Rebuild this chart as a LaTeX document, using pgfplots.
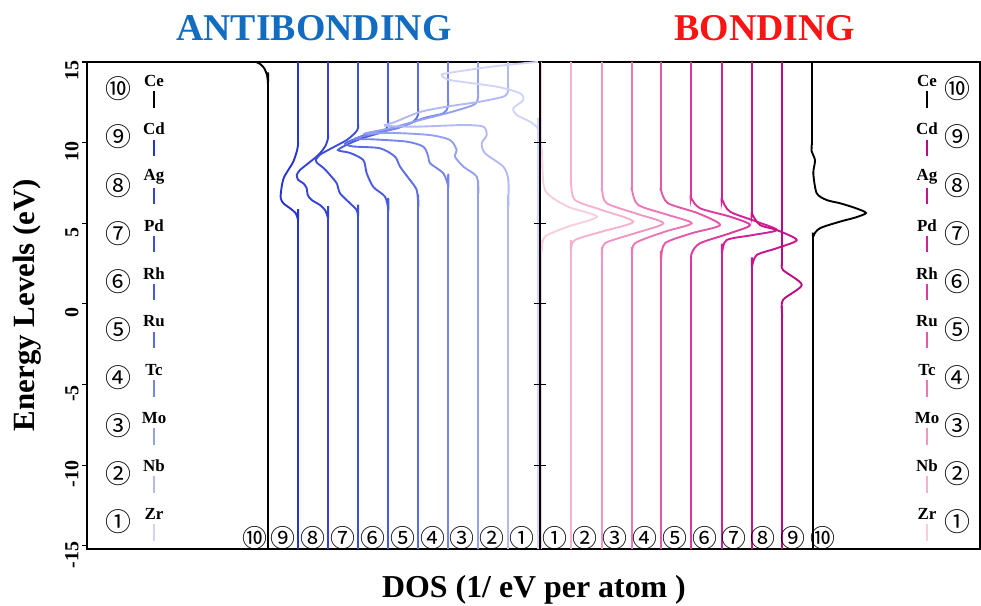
\documentclass[border=0pt]{standalone}
\usepackage{pgfplots}
\pgfplotsset{compat=1.18}
\usepackage{fontspec}
\setmainfont{Liberation Serif}
\newfontfamily\cjk{Noto Sans CJK SC}
\definecolor{b9}{RGB}{40,52,205}
\definecolor{b8}{RGB}{52,66,215}
\definecolor{b7}{RGB}{62,78,220}
\definecolor{b6}{RGB}{72,90,225}
\definecolor{b5}{RGB}{92,108,230}
\definecolor{b4}{RGB}{118,132,236}
\definecolor{b3}{RGB}{148,160,240}
\definecolor{b2}{RGB}{178,186,245}
\definecolor{b1}{RGB}{208,212,248}
\definecolor{p1}{RGB}{248,205,222}
\definecolor{p2}{RGB}{245,178,208}
\definecolor{p3}{RGB}{240,150,196}
\definecolor{p4}{RGB}{235,120,182}
\definecolor{p5}{RGB}{228,88,170}
\definecolor{p6}{RGB}{220,58,160}
\definecolor{p7}{RGB}{210,32,150}
\definecolor{p8}{RGB}{200,20,140}
\definecolor{p9}{RGB}{188,10,130}
\definecolor{titleblue}{RGB}{18,108,192}
\definecolor{titlered}{RGB}{250,20,20}
\begin{document}
\begin{tikzpicture}[x=1bp,y=1bp]
\useasboundingbox (0,0) rectangle (981,606);
\begin{axis}[at={(87bp,57bp)}, anchor=south west, scale only axis,
  width=893bp, height=487bp, xmin=87, xmax=980, ymin=-15.2, ymax=15,
  xtick=\empty, ytick={-15,-10,...,15}, ytick pos=left,
  tick align=outside, major tick length=5bp,
  every tick/.style={black, line width=1.2pt},
  axis line style={line width=1.5pt},
  /pgf/number format/assume math mode=true,
  yticklabel style={rotate=90, anchor=south, font=\fontsize{20}{20}\selectfont\bfseries, xshift=-9bp},
  every axis plot/.append style={line width=1.9pt, smooth, tension=0.45, no marks},
  clip=true]
% ---- left panel (antibonding) ----
\addplot[black] coordinates {(268,-15.2)(268,12.5)(268,13.57)(267,14.19)(264,14.63)(260,14.88)(256,15)};
\addplot[b9] coordinates {(298,-15.2)(298,4.6)(298,5.20)(295.7,5.62)(290,5.93)(283.3,6.24)(280.7,6.55)(281,6.96)(282.3,7.48)(284.3,7.89)(288.3,8.30)(293.3,8.82)(296.7,9.44)(298,9.85)(298,10.4)(298,15)};
\addplot[b8] coordinates {(328,-15.2)(328,4.8)(328,5.31)(325,5.82)(320,6.13)(311.7,6.44)(307.7,6.75)(306.7,7.17)(303.3,7.48)(298.3,7.68)(296.7,7.99)(300,8.30)(308.3,8.72)(318.3,9.23)(325,9.75)(328,10.27)(328,10.8)(328,15)};
\addplot[b7] coordinates {(358,-15.2)(358,4.9)(358,5.4)(356.7,5.82)(350,6.24)(340,6.86)(336.7,7.48)(330,7.99)(324,8.4)(317,8.75)(316,8.95)(320,9.25)(330,9.6)(346.7,10.16)(355,10.6)(358,10.89)(358,11.4)(358,15)};
\addplot[b6] coordinates {(388,-15.2)(388,5.3)(388.3,5.82)(385,6.65)(373.3,7.25)(366.7,8.10)(363.3,8.92)(350,9.36)(338,9.54)(350,9.96)(363,10.29)(383,10.68)(388,11.09)(388,11.6)(388,15)};
\addplot[b5] coordinates {(418,-15.2)(418,5.5)(418.3,6.03)(416.7,7.06)(410,7.68)(400,8.51)(395,9.13)(380,9.65)(353.3,9.76)(345,9.92)(350,10.10)(370,10.58)(396.7,10.89)(413.3,11.30)(418,11.71)(418,12.3)(418,15)};
\addplot[b4] coordinates {(448,-15.2)(448,6.7)(448.3,7.27)(443.3,8.10)(430,8.72)(428.3,9.13)(423.3,9.75)(406.7,10.06)(373.3,10.20)(355,10.22)(363.3,10.40)(396.7,10.89)(423.3,11.51)(443.3,11.82)(448,12.23)(448,12.8)(448,15)};
\addplot[b3] coordinates {(478,-15.2)(478,6.3)(478.3,6.86)(476.7,7.89)(463.3,8.51)(455,9.13)(456.7,9.54)(450,10.16)(430,10.47)(393.3,10.60)(365,10.56)(390,10.89)(420,11.40)(446.7,11.82)(473.3,12.33)(478,12.75)(478,13.3)(478,15)};
\addplot[b2] coordinates {(508,-15.2)(508,5.5)(508.3,6.03)(508.3,7.68)(503.3,8.51)(485,9.34)(481.7,9.96)(486.7,10.47)(483.3,10.99)(463.3,11.09)(416.7,10.99)(385,11.05)(395,11.28)(420,11.90)(446.7,12.23)(480,12.54)(503.3,12.85)(508,13.16)(508,13.7)(508,15)};
\addplot[b1] coordinates {(538,-15.2)(538,9.9)(538.3,10.68)(536.7,10.97)(530,11.30)(516.7,11.71)(513.3,12.13)(523.3,12.64)(520,13.06)(496.7,13.47)(450,13.88)(441.7,14.19)(446.7,14.30)(490,14.7)(530,14.96)(538,15)};
% ---- right panel (bonding) ----
\addplot[p1] coordinates {(541,-15.2)(541,2.8)(541.7,3.34)(545,4.17)(568,4.79)(597,5.41)(568,6.03)(545,7.06)(542,9.5)(541,9.8)(541,15)};
\addplot[p2] coordinates {(571,-15.2)(571,2.8)(571,3.34)(575,3.96)(601.7,4.48)(633.3,5.10)(601.7,5.82)(575,6.44)(571,7.48)(571,8.0)(571,15)};
\addplot[p3] coordinates {(602,-15.2)(602,2.4)(602,2.93)(605,3.76)(635,4.38)(663.3,5.0)(635,5.62)(606.7,6.24)(602,7.06)(602,7.6)(602,15)};
\addplot[p4] coordinates {(632,-15.2)(632,2.4)(632,2.93)(635,3.76)(665,4.48)(691.7,5.0)(668.3,5.51)(638.3,6.13)(632,7.06)(632,7.6)(632,15)};
\addplot[p5] coordinates {(661,-15.2)(661,2.2)(661,2.72)(665,3.76)(691.7,4.38)(720,4.89)(698,5.62)(668,6.24)(661,7.06)(661,7.6)(661,15)};
\addplot[p6] coordinates {(691,-15.2)(691,1.9)(691,2.4)(691.7,3.14)(700,3.76)(730,4.38)(750,4.89)(730,5.41)(700,5.93)(691,6.6)(691,7.2)(691,15)};
\addplot[p7] coordinates {(722,-15.2)(722,2.6)(722,3.14)(726.7,3.96)(753,4.27)(776.7,4.58)(756.7,5.10)(730,5.72)(722,6.5)(722,7.0)(722,15)};
\addplot[p8] coordinates {(752,-15.2)(752,1.8)(752,2.31)(756.7,3.03)(776.7,3.45)(796.7,3.96)(776.7,4.58)(760,4.89)(752,5.6)(752,6.1)(752,15)};
\addplot[p9] coordinates {(782,-15.2)(782,-1.1)(782,-0.58)(783,0.25)(801.7,1.18)(783,2.1)(782,2.6)(782,3.2)(782,15)};
\addplot[black] coordinates {(813,-15.2)(813,3.0)(813.3,4.17)(820,4.69)(840,5.1)(855,5.35)(866,5.64)(855,5.95)(840,6.24)(826.7,6.44)(816.7,6.86)(813.3,8.1)(815,8.9)(811.5,9.5)(812,10.0)(812,10.6)(812,15)};
% divider
\draw[line width=1.8pt] (axis cs:540,-15.2) -- (axis cs:540,15);
\draw[line width=1.2pt] (axis cs:534,-10) -- (axis cs:546,-10);
\draw[line width=1.2pt] (axis cs:534,-5) -- (axis cs:546,-5);
\draw[line width=1.2pt] (axis cs:534,0) -- (axis cs:546,0);
\draw[line width=1.2pt] (axis cs:534,5) -- (axis cs:546,5);
\draw[line width=1.2pt] (axis cs:534,10) -- (axis cs:546,10);
\end{axis}
% titles and labels
\node[font=\fontsize{38}{40}\selectfont\bfseries, text=titleblue] at (314,578) {ANTIBONDING};
\node[font=\fontsize{38}{40}\selectfont\bfseries, text=titlered] at (765,578) {BONDING};
\node[font=\fontsize{32}{34}\selectfont\bfseries] at (534,16) {DOS (1/ eV per atom )};
\node[font=\fontsize{31}{33}\selectfont\bfseries, rotate=90] at (27,301) {Energy Levels (eV)};
% legends
\foreach \k/\el/\c/\n in {10/Ce/black/⑩, 9/Cd/b9/⑨, 8/Ag/b8/⑧, 7/Pd/b7/⑦, 6/Rh/b6/⑥, 5/Ru/b5/⑤, 4/Tc/b4/④, 3/Mo/b3/③, 2/Nb/b2/②, 1/Zr/b1/①} {
  \pgfmathsetmacro{\yy}{606-(89+(10-\k)*48.1)}
  \node[font=\cjk\fontsize{26}{26}\selectfont] at (118,\yy) {\n};
  \node[font=\fontsize{17}{17}\selectfont\bfseries] at (154,\yy+8) {\el};
  \draw[\c, line width=1.6pt] (154,\yy-2.5) -- (154,\yy-19);
}
\foreach \k/\el/\c/\n in {10/Ce/black/⑩, 9/Cd/p9/⑨, 8/Ag/p8/⑧, 7/Pd/p7/⑦, 6/Rh/p6/⑥, 5/Ru/p5/⑤, 4/Tc/p4/④, 3/Mo/p3/③, 2/Nb/p2/②, 1/Zr/p1/①} {
  \pgfmathsetmacro{\yy}{606-(89+(10-\k)*48.1)}
  \node[font=\cjk\fontsize{26}{26}\selectfont] at (957,\yy) {\n};
  \node[font=\fontsize{17}{17}\selectfont\bfseries] at (927,\yy+8) {\el};
  \draw[\c, line width=1.6pt] (927,\yy-2.5) -- (927,\yy-19);
}
% bottom curve labels
\foreach \xx/\n in {255/⑩, 283/⑨, 313/⑧, 343/⑦, 373/⑥, 403/⑤, 433/④, 462/③, 492/②, 522/①, 555/①, 585/②, 615/③, 645/④, 675/⑤, 705/⑥, 734/⑦, 763/⑧, 793/⑨, 823/⑩} {
  \node[font=\cjk\fontsize{25}{25}\selectfont] at (\xx,68) {\n};
}
\end{tikzpicture}
\end{document}
